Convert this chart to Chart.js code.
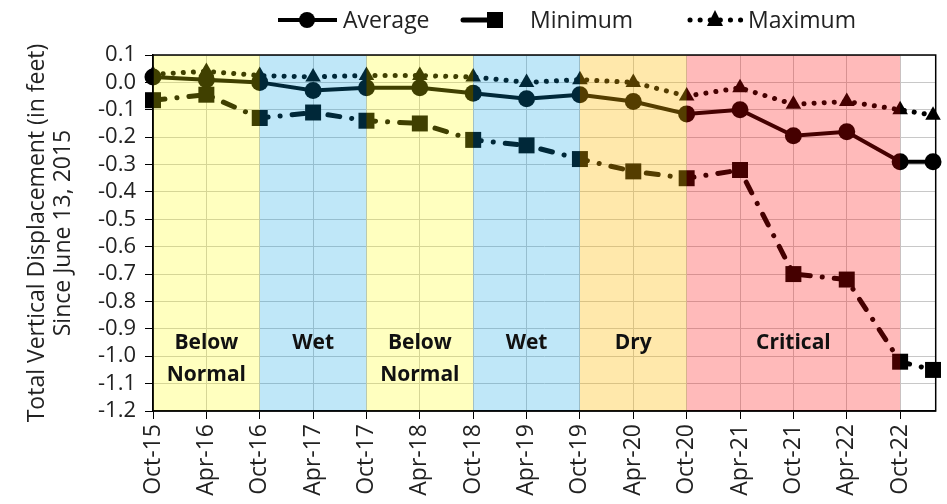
<!DOCTYPE html>
<html lang="en">
  <head>
    <meta charset="UTF-8" />
    <title>Total Vertical Displacement</title>
    <script src="https://cdn.jsdelivr.net/npm/chart.js"></script>
    <style>
      html, body { margin: 0; padding: 0; background: #fff; }
      .graphDiv { width: 947px; height: 504px; }
    </style>
  </head>
  <body>
    <div class="graphDiv">
      <canvas id="myChart"></canvas>
    </div>

    <script>
// months since Oct-15, one per survey
const surveyMonths = [0, 6, 12, 18, 24, 30, 36, 42, 48, 54, 60, 66, 72, 78, 84, 87.7];
const averageValues = [0.02, 0.01, 0.0, -0.03, -0.02, -0.02, -0.04, -0.06, -0.045, -0.07, -0.115, -0.10, -0.195, -0.18, -0.29, -0.29];
const minimumValues = [-0.065, -0.045, -0.13, -0.11, -0.14, -0.15, -0.21, -0.23, -0.28, -0.325, -0.35, -0.32, -0.70, -0.72, -1.02, -1.05];
const maximumValues = [0.03, 0.04, 0.025, 0.02, 0.025, 0.025, 0.02, 0.0, 0.01, 0.0, -0.05, -0.02, -0.08, -0.07, -0.10, -0.12];

const xTickMonths = [0, 6, 12, 18, 24, 30, 36, 42, 48, 54, 60, 66, 72, 78, 84];
const xTickLabels = ["Oct-15", "Apr-16", "Oct-16", "Apr-17", "Oct-17", "Apr-18", "Oct-18", "Apr-19",
  "Oct-19", "Apr-20", "Oct-20", "Apr-21", "Oct-21", "Apr-22", "Oct-22"];
const yTickValues = [0.1, 0.0, -0.1, -0.2, -0.3, -0.4, -0.5, -0.6, -0.7, -0.8, -0.9, -1.0, -1.1, -1.2];

// water year types
const bandStarts = [0, 12, 24, 36, 48, 60];
const bandEnds = [12, 24, 36, 48, 60, 84];
const bandNames = [["Below", "Normal"], ["Wet"], ["Below", "Normal"], ["Wet"], ["Dry"], ["Critical"]];
const bandColors = ["rgba(255,255,0,0.25)", "rgba(0,159,227,0.25)", "rgba(255,255,0,0.25)",
  "rgba(0,159,227,0.25)", "rgba(255,185,0,0.33)", "rgba(255,0,0,0.27)"];

const FONT = "'Open Sans', 'Liberation Sans', sans-serif";

const toPoints = (vals) => vals.map((v, i) => ({ x: surveyMonths[i], y: v }));

// colored year-type bands drawn over the lines (that tints them, like the original)
const bandsPlugin = {
  id: "bands",
  afterDatasetsDraw(chart) {
    const { ctx, chartArea, scales } = chart;
    ctx.save();
    bandStarts.forEach((s, i) => {
      const x0 = scales.x.getPixelForValue(s);
      const x1 = scales.x.getPixelForValue(bandEnds[i]);
      ctx.fillStyle = bandColors[i];
      ctx.fillRect(x0, chartArea.top, x1 - x0, chartArea.bottom - chartArea.top);
    });
    ctx.fillStyle = "#111";
    ctx.font = "bold 21px " + FONT;
    ctx.textAlign = "center";
    ctx.textBaseline = "middle";
    bandStarts.forEach((s, i) => {
      const cx = (scales.x.getPixelForValue(s) + scales.x.getPixelForValue(bandEnds[i])) / 2;
      bandNames[i].forEach((line, j) => {
        ctx.fillText(line, cx, 343 + j * 32);
      });
    });
    // box round the plot
    ctx.strokeStyle = "#000";
    ctx.lineWidth = 1.5;
    ctx.strokeRect(chartArea.left, chartArea.top, chartArea.right - chartArea.left, chartArea.bottom - chartArea.top);
    ctx.restore();
  },
};

const drawMarker = (ctx, style, x, y) => {
  ctx.beginPath();
  if (style === "circle") {
    ctx.arc(x, y, 8, 0, Math.PI * 2);
  } else if (style === "rect") {
    ctx.rect(x - 8, y - 8, 16, 16);
  } else {
    ctx.moveTo(x, y - 10);
    ctx.lineTo(x + 8, y + 6);
    ctx.lineTo(x - 8, y + 6);
    ctx.closePath();
  }
  ctx.fill();
};

// legend: line sample + marker + label
const legendPlugin = {
  id: "lineLegend",
  afterDraw(chart) {
    const { ctx } = chart;
    const items = [
      { x0: 278, x1: 337, mx: 307, tx: 343 },
      { x0: 463, x1: 497, mx: 495, tx: 530 },
      { x0: 690, x1: 742, mx: 715, tx: 748 },
    ];
    ctx.save();
    chart.data.datasets.forEach((ds, i) => {
      const it = items[i];
      const y = 20;
      ctx.strokeStyle = "#000";
      ctx.fillStyle = "#000";
      ctx.lineWidth = ds.borderWidth;
      ctx.lineCap = ds.borderCapStyle || "butt";
      ctx.setLineDash(i === 1 ? [] : ds.borderDash || []);
      ctx.beginPath();
      ctx.moveTo(it.x0, y);
      ctx.lineTo(it.x1, y);
      ctx.stroke();
      ctx.setLineDash([]);
      drawMarker(ctx, ds.pointStyle, it.mx, y);
      ctx.font = "23px " + FONT;
      ctx.textAlign = "left";
      ctx.textBaseline = "middle";
      ctx.fillStyle = "#222";
      ctx.fillText(ds.label, it.tx, y + 1);
    });
    ctx.restore();
  },
};

document.addEventListener("DOMContentLoaded", () => {
  const ctx = document.getElementById("myChart").getContext("2d");
  new Chart(ctx, {
    type: "line",
    data: {
      datasets: [
        {
          label: "Average",
          data: toPoints(averageValues),
          borderColor: "#000",
          backgroundColor: "#000",
          borderWidth: 4,
          pointStyle: "circle",
          pointRadius: 8.5,
          pointBorderWidth: 0,
          clip: false,
        },
        {
          label: "Minimum",
          data: toPoints(minimumValues),
          borderColor: "#000",
          backgroundColor: "#000",
          borderWidth: 5,
          borderDash: [12, 12, 0.1, 12],
          borderCapStyle: "round",
          pointStyle: "rect",
          pointRadius: 11.3,
          pointBorderWidth: 0,
          clip: false,
        },
        {
          label: "Maximum",
          data: toPoints(maximumValues),
          borderColor: "#000",
          backgroundColor: "#000",
          borderWidth: 5,
          borderDash: [0.1, 10],
          borderCapStyle: "round",
          pointStyle: "triangle",
          pointRadius: 9,
          pointBorderWidth: 0,
          clip: false,
        },
      ],
    },
    options: {
      responsive: true,
      maintainAspectRatio: false,
      animation: false,
      layout: { padding: { top: 55, right: 9, left: 0, bottom: 0 } },
      plugins: {
        legend: { display: false },
        tooltip: { enabled: false },
      },
      scales: {
        x: {
          type: "linear",
          min: 0,
          max: 88,
          afterBuildTicks: (axis) => {
            axis.ticks = xTickMonths.map((v) => ({ value: v }));
          },
          afterFit: (axis) => {
            axis.height = 93;
          },
          ticks: {
            autoSkip: false,
            maxRotation: 90,
            minRotation: 90,
            padding: 5,
            color: "#222",
            font: { family: FONT, size: 23 },
            callback: (v) => xTickLabels[xTickMonths.indexOf(v)],
          },
          grid: { color: "#c8c8c8", lineWidth: 1, tickColor: "#000", tickLength: 8 },
          border: { color: "#000", width: 1.5 },
        },
        y: {
          min: -1.2,
          max: 0.1,
          afterBuildTicks: (axis) => {
            axis.ticks = yTickValues.map((v) => ({ value: v }));
          },
          afterFit: (axis) => {
            axis.width = 153;
          },
          ticks: {
            autoSkip: false,
            padding: 9,
            color: "#222",
            font: { family: FONT, size: 22 },
            callback: (v) => v.toFixed(1),
          },
          grid: { color: "#c8c8c8", lineWidth: 1, tickColor: "#000", tickLength: 8 },
          border: { color: "#000", width: 1.5 },
          title: {
            display: true,
            text: ["Total Vertical Displacement (in feet)", "Since June 13, 2015"],
            color: "#222",
            font: { family: FONT, size: 23, lineHeight: 1.13 },
            padding: { top: 24, bottom: 0 },
          },
        },
      },
    },
    plugins: [bandsPlugin, legendPlugin],
  });
});
    </script>
  </body>
</html>
